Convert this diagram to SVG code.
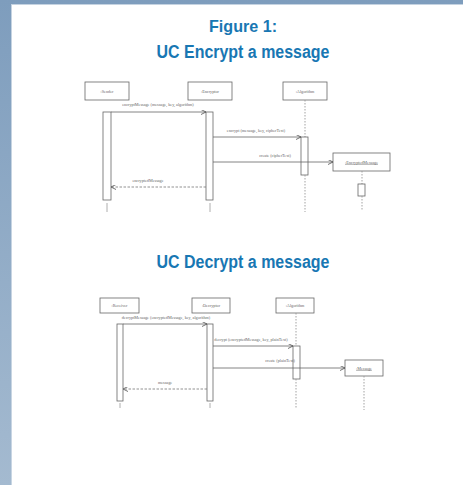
<svg xmlns="http://www.w3.org/2000/svg" width="463" height="485" viewBox="0 0 463 485">
<defs>
<linearGradient id="bg" x1="0" y1="0" x2="0" y2="1">
<stop offset="0" stop-color="#7e9dbd"/>
<stop offset="1" stop-color="#a4bad0"/>
</linearGradient>
<marker id="ah" viewBox="0 0 6 6" refX="6" refY="3" markerWidth="5" markerHeight="5" markerUnits="userSpaceOnUse" orient="auto">
<path d="M0,0 L6,3 L0,6" fill="none" stroke="#555" stroke-width="1"/>
</marker>
</defs>
<style>
.title{font-family:"Liberation Sans",Arial,sans-serif;font-weight:bold;fill:#1877b3;text-anchor:middle}
.box{fill:#fff;stroke:#666;stroke-width:0.8}
.act{fill:#fff;stroke:#666;stroke-width:0.8}
.lbl{font-family:"Liberation Serif",serif;font-size:4.2px;fill:#666;text-anchor:middle}
.msg{stroke:#666;stroke-width:0.8;fill:none;marker-end:url(#ah)}
.ret{stroke:#777;stroke-width:0.8;fill:none;stroke-dasharray:2.5,1.5;marker-end:url(#ah)}
.life{stroke:#999;stroke-width:0.9;stroke-dasharray:1.5,1.5;fill:none}
.tick{stroke:#999;stroke-width:0.8;fill:none}
</style>
<rect x="0" y="0" width="463" height="485" fill="url(#bg)"/>
<rect x="11.5" y="4.5" width="452" height="481" fill="#ffffff" stroke="#c6d4e2" stroke-width="0.8"/>

<g id="titles">
<text class="title" x="243" y="32" font-size="17" textLength="68" lengthAdjust="spacingAndGlyphs">Figure 1:</text>
<text class="title" x="243" y="58" font-size="18" textLength="173" lengthAdjust="spacingAndGlyphs">UC Encrypt a message</text>
<text class="title" x="243" y="268" font-size="18" textLength="173" lengthAdjust="spacingAndGlyphs">UC Decrypt a message</text>
</g>

<!-- Encrypt diagram -->
<g id="e-sender"><rect class="box" x="85" y="82" width="44" height="18"/><text class="lbl" x="107" y="92.5">:Sender</text>
<rect class="act" x="103" y="112" width="8" height="88"/><line class="tick" x1="107" y1="203" x2="107" y2="212"/></g>
<g id="e-encryptor"><rect class="box" x="188" y="82" width="44" height="18"/><text class="lbl" x="210" y="92.5">:Encryptor</text>
<rect class="act" x="206" y="112" width="7" height="88"/><line class="tick" x1="210" y1="203" x2="210" y2="212"/></g>
<g id="e-algorithm"><rect class="box" x="283" y="82" width="44" height="18"/><text class="lbl" x="305" y="92.5">:Algorithm</text>
<line class="life" x1="305" y1="100" x2="305" y2="137"/>
<rect class="act" x="301" y="137" width="7" height="38"/>
<line class="life" x1="305" y1="175" x2="305" y2="212"/></g>
<g id="e-encmsg"><rect class="box" x="333" y="153" width="57" height="18"/><text class="lbl" x="361.5" y="163.5" text-decoration="underline">:EncryptedMessage</text>
<line class="life" x1="362" y1="171" x2="362" y2="184"/>
<rect class="act" x="358" y="184" width="7" height="12"/>
<line class="life" x1="362" y1="196" x2="362" y2="210"/></g>

<g id="e-connectors">
<line class="msg" x1="111" y1="112" x2="206" y2="112"/>
<text class="lbl" x="158" y="106">encryptMessage (message, key, algorithm)</text>
<line class="msg" x1="213" y1="137" x2="301" y2="137"/>
<text class="lbl" x="256" y="132">encrypt (message, key, cipherText)</text>
<line class="msg" x1="213" y1="162" x2="333" y2="162"/>
<text class="lbl" x="275" y="157">create (cipherText)</text>
<line class="ret" x1="206" y1="187" x2="111" y2="187"/>
<text class="lbl" x="148" y="182">encryptedMessage</text>
</g>

<!-- Decrypt diagram -->
<g id="d-receiver"><rect class="box" x="100" y="298" width="39" height="15"/><text class="lbl" x="119.5" y="307">:Receiver</text>
<rect class="act" x="117" y="324" width="6" height="77"/><line class="tick" x1="120" y1="403" x2="120" y2="408"/></g>
<g id="d-decryptor"><rect class="box" x="192" y="298" width="38" height="15"/><text class="lbl" x="211" y="307">:Decryptor</text>
<rect class="act" x="207" y="324" width="6" height="77"/><line class="tick" x1="210" y1="403" x2="210" y2="408"/></g>
<g id="d-algorithm"><rect class="box" x="276" y="298" width="38" height="15"/><text class="lbl" x="295" y="307">:Algorithm</text>
<line class="life" x1="296" y1="313" x2="296" y2="346"/>
<rect class="act" x="293" y="346" width="7" height="33"/>
<line class="life" x1="296" y1="379" x2="296" y2="409"/></g>
<g id="d-message"><rect class="box" x="345" y="360" width="38" height="16"/><text class="lbl" x="364" y="369.5" text-decoration="underline">:Message</text>
<line class="life" x1="364" y1="376" x2="364" y2="410"/></g>

<g id="d-connectors">
<line class="msg" x1="123" y1="324" x2="207" y2="324"/>
<text class="lbl" x="166" y="318.5">decryptMessage (encryptedMessage, key, algorithm)</text>
<line class="msg" x1="213" y1="346" x2="293" y2="346"/>
<text class="lbl" x="251" y="341">decrypt (encryptedMessage, key, plainText)</text>
<line class="msg" x1="213" y1="368" x2="345" y2="368"/>
<text class="lbl" x="280" y="362">create (plainText)</text>
<line class="ret" x1="207" y1="389" x2="123" y2="389"/>
<text class="lbl" x="165" y="384">message</text>
</g>
</svg>
